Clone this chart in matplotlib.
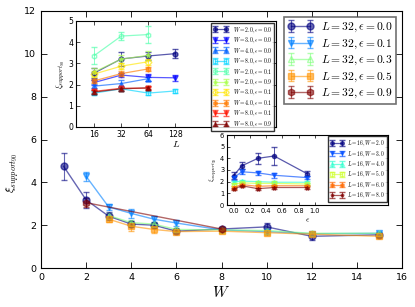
import numpy as np
import matplotlib
matplotlib.use("Agg")
import matplotlib.pyplot as plt
from matplotlib import cm

plt.rcParams['mathtext.fontset'] = 'cm'
plt.rcParams['xtick.direction'] = 'in'
plt.rcParams['ytick.direction'] = 'in'
plt.rcParams['xtick.top'] = True
plt.rcParams['ytick.right'] = True

# ---------------- main data ----------------
W_e00 = [1, 2, 3, 4, 5, 6, 8, 10, 12, 15]
xi_e00 = [4.75, 3.18, 2.42, 2.05, 2.0, 1.72, 1.82, 1.92, 1.48, 1.55]
err_e00 = [0.62, 0.38, 0.2, 0.15, 0.12, 0.1, 0.1, 0.18, 0.15, 0.1]
W_e01 = [2, 3, 4, 5, 6, 8, 10, 12, 15]
xi_e01 = [4.28, 2.85, 2.55, 2.28, 2.1, 1.78, 1.7, 1.6, 1.62]
err_e01 = [0.22, 0.15, 0.22, 0.15, 0.12, 0.1, 0.1, 0.08, 0.08]
W_e03 = [3, 4, 5, 6, 8, 10, 12, 15]
xi_e03 = [2.45, 2.12, 2.05, 1.8, 1.78, 1.75, 1.62, 1.62]
err_e03 = [0.12, 0.12, 0.1, 0.08, 0.08, 0.08, 0.08, 0.08]
W_e05 = [3, 4, 5, 6, 8, 10, 12, 15]
xi_e05 = [2.28, 1.95, 1.8, 1.7, 1.72, 1.65, 1.58, 1.48]
err_e05 = [0.12, 0.2, 0.15, 0.1, 0.1, 0.1, 0.08, 0.08]
W_e09 = [2, 8]
xi_e09 = [3.05, 1.82]
err_e09 = [0.2, 0.1]
main_labels = [r'$L=32,\epsilon=0.0$', r'$L=32,\epsilon=0.1$', r'$L=32,\epsilon=0.3$',
               r'$L=32,\epsilon=0.5$', r'$L=32,\epsilon=0.9$']

# ---------------- inset 1 data (vs L) ----------------
L_vals = [16, 32, 64, 128]
in1_labels = [r'$W=2.0,\epsilon=0.0$', r'$W=3.0,\epsilon=0.0$', r'$W=4.0,\epsilon=0.0$',
              r'$W=8.0,\epsilon=0.0$', r'$W=2.0,\epsilon=0.1$', r'$W=2.0,\epsilon=0.9$',
              r'$W=3.0,\epsilon=0.1$', r'$W=4.0,\epsilon=0.1$', r'$W=8.0,\epsilon=0.1$',
              r'$W=8.0,\epsilon=0.9$']
in1_y = [[2.55, 3.21, 3.35, 3.46],
         [2.1, 2.45, 2.34, 2.32],
         [1.93, 2.05, 2.28],
         [1.6, 1.8, 1.6, 1.7],
         [3.37, 4.29, 4.36],
         [2.6, 3.2, 3.38],
         [2.5, 2.87, 3.08],
         [2.18, 2.52, 2.74],
         [1.68, 1.83, 1.83],
         [1.65, 1.8, 1.85]]
in1_err = [[0.25, 0.35, 0.2, 0.2],
           [0.1, 0.1, 0.15, 0.15],
           [0.1, 0.15, 0.1],
           [0.08, 0.08, 0.08, 0.08],
           [0.4, 0.2, 0.4],
           [0.2, 0.2, 0.2],
           [0.15, 0.15, 0.15],
           [0.1, 0.1, 0.1],
           [0.08, 0.08, 0.08],
           [0.08, 0.08, 0.08]]

# ---------------- inset 2 data (vs epsilon) ----------------
eps_vals = [0.0, 0.1, 0.3, 0.5, 0.9]
in2_labels = [r'$L=16,W=2.0$', r'$L=16,W=3.0$', r'$L=16,W=4.0$',
              r'$L=16,W=5.0$', r'$L=16,W=6.0$', r'$L=16,W=8.0$']
in2_y = [[2.5, 3.35, 4.0, 4.2, 2.7],
         [2.3, 2.85, 2.75, 2.55, 2.35],
         [1.95, 2.05, 2.0, 1.95, 1.95],
         [1.75, 1.9, 1.85, 1.85, 1.8],
         [1.5, 1.75, 1.6, 1.65, 1.65],
         [1.35, 1.65, 1.4, 1.5, 1.5]]
in2_err = [[0.3, 0.3, 0.5, 0.8, 0.2],
           [0.15, 0.2, 0.2, 0.2, 0.15],
           [0.1, 0.1, 0.1, 0.1, 0.1],
           [0.1, 0.1, 0.1, 0.1, 0.1],
           [0.1, 0.1, 0.1, 0.1, 0.1],
           [0.1, 0.1, 0.1, 0.1, 0.1]]

fig = plt.figure(figsize=(4.15, 3.07), dpi=100)
ax = fig.add_axes([41/415, 1-268/307, 361/415, 257/307])

main_W = [W_e00, W_e01, W_e03, W_e05, W_e09]
main_y = [xi_e00, xi_e01, xi_e03, xi_e05, xi_e09]
main_e = [err_e00, err_e01, err_e03, err_e05, err_e09]
main_m = ['o', 'v', '^', 's', 'h']
main_open = [False, False, True, False, False]
mcols = cm.jet(np.linspace(0, 1, 5))
for i in range(5):
    c = mcols[i]
    ax.errorbar(main_W[i], main_y[i], yerr=main_e[i], color=c, alpha=0.6,
                marker=main_m[i], ms=5, lw=1, capsize=2.5, elinewidth=0.8,
                mfc='none' if main_open[i] else c, mec=c, label=main_labels[i])
ax.set_xlim(0, 16)
ax.set_ylim(0, 12)
ax.set_xticks(range(0, 17, 2))
ax.set_yticks(range(0, 13, 2))
ax.tick_params(labelsize=6.8, length=4, width=0.6)
ax.set_xlabel(r'$W$', fontsize=11)
ax.set_ylabel(r'$\xi_{support_{90}}$', fontsize=8.5)
ax.yaxis.set_label_coords(-0.055, 0.37)
ax.xaxis.set_label_coords(0.5, -0.065)
leg = ax.legend(loc='upper right', fontsize=8.3, numpoints=2, fancybox=False,
                borderaxespad=0.5, handlelength=2.2, labelspacing=0.2,
                borderpad=0.3, handletextpad=0.7)
leg.get_frame().set_edgecolor('0.3')
leg.get_frame().set_linewidth(1.2)

# ---------------- inset 1 ----------------
ax1 = fig.add_axes([76/415, 1-127/307, 200/415, 106/307])
in1_m = ['o', 'v', '^', 's', 'h', '*', 'D', 'h', 'v', '^']
in1_open = [False, False, False, True, True, False, True, False, False, False]
c1 = cm.jet(np.linspace(0, 1, 10))
for i in range(10):
    xs = L_vals[:len(in1_y[i])]
    ax1.errorbar(xs, in1_y[i], yerr=in1_err[i], color=c1[i], alpha=0.65,
                 marker=in1_m[i], ms=3.5, lw=0.9, capsize=2, elinewidth=0.7,
                 mfc='none' if in1_open[i] else c1[i], mec=c1[i], label=in1_labels[i])
ax1.set_xscale('log', base=2)
ax1.set_xlim(10, 1700)
ax1.set_ylim(0, 5)
ax1.set_xticks(L_vals)
ax1.set_xticklabels([str(v) for v in L_vals])
ax1.minorticks_off()
ax1.set_yticks(range(0, 6))
ax1.tick_params(labelsize=5.6, length=3, width=0.5, pad=2)
ax1.set_xlabel(r'$L$', fontsize=7, labelpad=0)
ax1.set_ylabel(r'$\xi_{support_{90}}$', fontsize=6, labelpad=1)
leg1 = ax1.legend(loc='upper right', fontsize=4.1, numpoints=2, fancybox=False,
                  borderaxespad=0.3, handlelength=2.6, labelspacing=0.15,
                  borderpad=0.4, handletextpad=0.8, markerscale=0.8)
leg1.get_frame().set_edgecolor('black')
leg1.get_frame().set_linewidth(1.0)

# ---------------- inset 2 ----------------
ax2 = fig.add_axes([227/415, 1-205/307, 161/415, 70/307])
in2_m = ['o', 'v', '^', 's', 'h', '*']
in2_open = [False, False, True, True, False, False]
c2 = cm.jet(np.linspace(0, 1, 6))
for i in range(6):
    ax2.errorbar(eps_vals, in2_y[i], yerr=in2_err[i], color=c2[i], alpha=0.65,
                 marker=in2_m[i], ms=3, lw=0.9, capsize=2, elinewidth=0.7,
                 mfc='none' if in2_open[i] else c2[i], mec=c2[i], label=in2_labels[i])
ax2.set_xlim(-0.08, 1.9)
ax2.set_ylim(0, 6)
ax2.set_xticks([0.0, 0.2, 0.4, 0.6, 0.8, 1.0])
ax2.set_yticks(range(0, 7))
ax2.tick_params(labelsize=4.8, length=2.5, width=0.5, pad=2)
ax2.set_xlabel(r'$\epsilon$', fontsize=6, labelpad=1)
ax2.set_ylabel(r'$\xi_{support_{90}}$', fontsize=5, labelpad=1)
leg2 = ax2.legend(loc='upper right', fontsize=3.9, numpoints=2, fancybox=False,
                  borderaxespad=0.25, handlelength=2.4, labelspacing=0.15,
                  borderpad=0.4, handletextpad=0.7, markerscale=0.85)
leg2.get_frame().set_edgecolor('black')
leg2.get_frame().set_linewidth(1.0)

fig.savefig('out.png', dpi=100)
